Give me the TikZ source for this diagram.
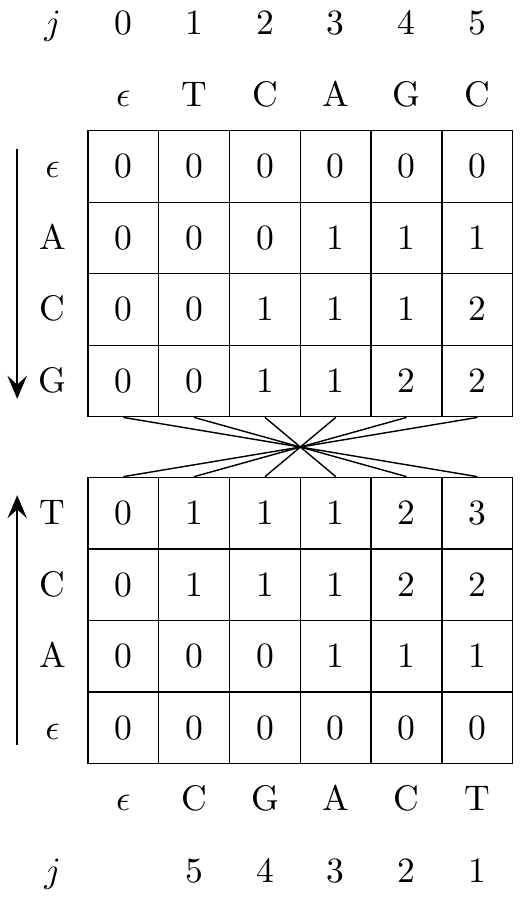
\documentclass[tikz,border=0pt]{standalone}
\usepackage{amsmath}
\usepackage{amssymb}
\usetikzlibrary{arrows.meta}

\tikzset{
  cell/.style={draw, minimum width=0.7cm, minimum height=0.707cm,
    inner sep=0pt, text height=1.5ex, text depth=0pt},
  lbl/.style={inner sep=0pt, text height=1.5ex, text depth=0pt},
  dir/.style={-{Stealth[length=6.5pt, width=5.5pt, inset=2.5pt]}}
}

\begin{document}
\begin{tikzpicture}[x=0.7cm, y=0.707cm]
\useasboundingbox (-1.243,1.828) rectangle (6.215,-10.787);

% top table
\node[lbl] (jt) at (-0.5,1.5) {$j$};
\foreach \v [count=\c from 0] in {0,1,2,3,4,5}
  \node[lbl] (jt-\c) at (\c+0.5,1.5) {\v};
\foreach \s [count=\c from 0] in {$\epsilon$,T,C,A,G,C}
  \node[lbl] (st-\c) at (\c+0.5,0.5) {\s};
\foreach \s [count=\r from 0] in {$\epsilon$,A,C,G}
  \node[lbl] (rt-\r) at (-0.5,-\r-0.5) {\s};
\foreach \row [count=\r from 0] in {{0,0,0,0,0,0},{0,0,0,1,1,1},
    {0,0,1,1,1,2},{0,0,1,1,2,2}}
  \foreach \v [count=\c from 0] in \row
    \node[cell] (t-\r-\c) at (\c+0.5,-\r-0.5) {\v};

% bottom table
\foreach \s [count=\r from 0] in {T,C,A,$\epsilon$}
  \node[lbl] (rb-\r) at (-0.5,-5.348-\r) {\s};
\foreach \row [count=\r from 0] in {{0,1,1,1,2,3},{0,1,1,1,2,2},
    {0,0,0,1,1,1},{0,0,0,0,0,0}}
  \foreach \v [count=\c from 0] in \row
    \node[cell] (b-\r-\c) at (\c+0.5,-5.348-\r) {\v};
\foreach \s [count=\c from 0] in {$\epsilon$,C,G,A,C,T}
  \node[lbl] (sb-\c) at (\c+0.5,-9.348) {\s};
\node[lbl] (jb) at (-0.5,-10.348) {$j$};
\foreach \v [count=\c from 1] in {5,4,3,2,1}
  \node[lbl] (jb-\c) at (\c+0.5,-10.348) {\v};

% crossing
\foreach \k in {0,...,5}{
  \pgfmathtruncatemacro\m{5-\k}
  \draw (t-3-\k.south) -- (b-0-\m.north);
}

% directions
\coordinate (dn-a) at (-1,-0.25);
\coordinate (dn-b) at (-1,-3.75);
\draw[dir] (dn-a) -- (dn-b);
\coordinate (up-a) at (-1,-8.598);
\coordinate (up-b) at (-1,-5.098);
\draw[dir] (up-a) -- (up-b);
\end{tikzpicture}
\end{document}
